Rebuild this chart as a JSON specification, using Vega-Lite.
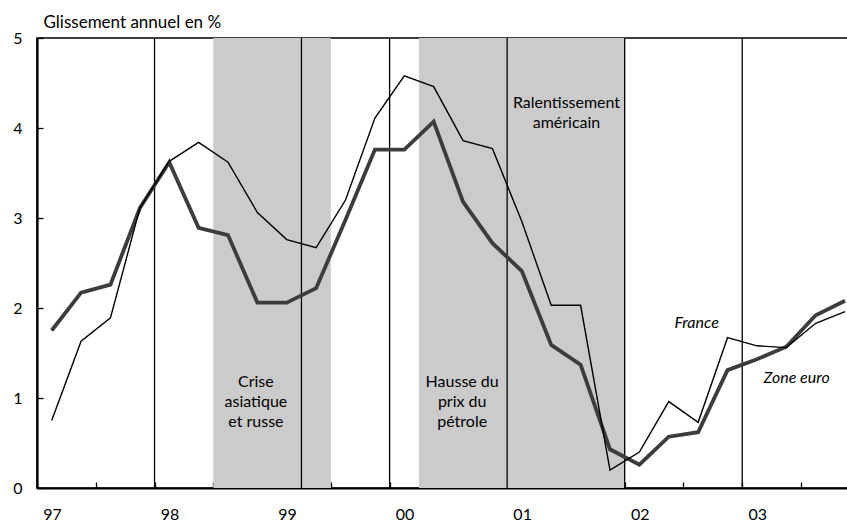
{
  "$schema": "https://vega.github.io/schema/vega-lite/v6.json",
  "autosize": "none",
  "width": 811,
  "height": 450,
  "padding": {"left": 37, "top": 38, "right": 0, "bottom": 36},
  "config": {
    "font": "Lato",
    "view": {"stroke": "#000000", "strokeWidth": 1.5},
    "axis": {"grid": false}
  },
  "datasets": {
    "bands": [{"start": 6, "end": 10}, {"start": 13, "end": 20}],
    "vlines": [{"t": 4}, {"t": 9}, {"t": 12}, {"t": 16}, {"t": 20}, {"t": 24}],
    "series": [
      {"t": 0.5, "s": "Zone euro", "v": 1.75}, {"t": 1.5, "s": "Zone euro", "v": 2.17}, {"t": 2.5, "s": "Zone euro", "v": 2.26}, {"t": 3.5, "s": "Zone euro", "v": 3.11},
      {"t": 4.5, "s": "Zone euro", "v": 3.62}, {"t": 5.5, "s": "Zone euro", "v": 2.89}, {"t": 6.5, "s": "Zone euro", "v": 2.81}, {"t": 7.5, "s": "Zone euro", "v": 2.06},
      {"t": 8.5, "s": "Zone euro", "v": 2.06}, {"t": 9.5, "s": "Zone euro", "v": 2.22}, {"t": 10.5, "s": "Zone euro", "v": 2.98}, {"t": 11.5, "s": "Zone euro", "v": 3.76},
      {"t": 12.5, "s": "Zone euro", "v": 3.76}, {"t": 13.5, "s": "Zone euro", "v": 4.07}, {"t": 14.5, "s": "Zone euro", "v": 3.18}, {"t": 15.5, "s": "Zone euro", "v": 2.72},
      {"t": 16.5, "s": "Zone euro", "v": 2.41}, {"t": 17.5, "s": "Zone euro", "v": 1.59}, {"t": 18.5, "s": "Zone euro", "v": 1.37}, {"t": 19.5, "s": "Zone euro", "v": 0.43},
      {"t": 20.5, "s": "Zone euro", "v": 0.26}, {"t": 21.5, "s": "Zone euro", "v": 0.57}, {"t": 22.5, "s": "Zone euro", "v": 0.62}, {"t": 23.5, "s": "Zone euro", "v": 1.31},
      {"t": 24.5, "s": "Zone euro", "v": 1.43}, {"t": 25.5, "s": "Zone euro", "v": 1.57}, {"t": 26.5, "s": "Zone euro", "v": 1.92}, {"t": 27.5, "s": "Zone euro", "v": 2.08},
      {"t": 0.5, "s": "France", "v": 0.75}, {"t": 1.5, "s": "France", "v": 1.63}, {"t": 2.5, "s": "France", "v": 1.89}, {"t": 3.5, "s": "France", "v": 3.11},
      {"t": 4.5, "s": "France", "v": 3.63}, {"t": 5.5, "s": "France", "v": 3.84}, {"t": 6.5, "s": "France", "v": 3.62}, {"t": 7.5, "s": "France", "v": 3.06},
      {"t": 8.5, "s": "France", "v": 2.76}, {"t": 9.5, "s": "France", "v": 2.67}, {"t": 10.5, "s": "France", "v": 3.2}, {"t": 11.5, "s": "France", "v": 4.11},
      {"t": 12.5, "s": "France", "v": 4.58}, {"t": 13.5, "s": "France", "v": 4.46}, {"t": 14.5, "s": "France", "v": 3.86}, {"t": 15.5, "s": "France", "v": 3.77},
      {"t": 16.5, "s": "France", "v": 2.96}, {"t": 17.5, "s": "France", "v": 2.03}, {"t": 18.5, "s": "France", "v": 2.03}, {"t": 19.5, "s": "France", "v": 0.2},
      {"t": 20.5, "s": "France", "v": 0.4}, {"t": 21.5, "s": "France", "v": 0.96}, {"t": 22.5, "s": "France", "v": 0.73}, {"t": 23.5, "s": "France", "v": 1.67},
      {"t": 24.5, "s": "France", "v": 1.58}, {"t": 25.5, "s": "France", "v": 1.56}, {"t": 26.5, "s": "France", "v": 1.83}, {"t": 27.5, "s": "France", "v": 1.96}
    ],
    "notes": [
      {"t": 7.45, "v": 1.18, "label": ["Crise", "asiatique", "et russe"]},
      {"t": 14.47, "v": 1.18, "label": ["Hausse du", "prix du", "pétrole"]},
      {"t": 18.02, "v": 4.28, "label": ["Ralentissement", "américain"]}
    ],
    "snotes": [
      {"t": 22.45, "v": 1.83, "label": "France"},
      {"t": 25.85, "v": 1.22, "label": "Zone euro"}
    ]
  },
  "layer": [
    {
      "data": {"name": "bands"},
      "mark": {"type": "rect", "color": "#cbcbcb"},
      "encoding": {
        "x": {
          "field": "start", "type": "quantitative",
          "scale": {"domain": [0, 27.6], "nice": false, "zero": false},
          "axis": {
            "title": null,
            "values": [0,1,2,3,4,5,6,7,8,9,10,11,12,13,14,15,16,17,18,19,20,21,22,23,24,25,26,27],
            "labelExpr": "datum.value % 4 === 0 ? ['97','98','99','00','01','02','03'][floor(datum.value / 4)] : ''",
            "labelOffset": 15,
            "labelOverlap": false,
            "labelFlush": false,
            "labelFontSize": 16,
            "labelColor": "#000000",
            "labelPadding": 24,
            "tickSize": -6,
            "tickColor": "#000000",
            "tickWidth": 1.3,
            "domainColor": "#000000",
            "domainWidth": 2.2
          }
        },
        "x2": {"field": "end"}
      }
    },
    {
      "data": {"name": "vlines"},
      "mark": {"type": "rule", "color": "#000000", "strokeWidth": 1.3},
      "encoding": {
        "x": {"field": "t", "type": "quantitative", "title": null}
      }
    },
    {
      "data": {"name": "series"},
      "mark": {"type": "line", "strokeJoin": "miter"},
      "encoding": {
        "x": {"field": "t", "type": "quantitative", "title": null},
        "y": {
          "field": "v", "type": "quantitative",
          "title": "Glissement annuel en %",
          "scale": {"domain": [0, 5], "nice": false},
          "axis": {
            "titleAngle": 0,
            "titleAlign": "left",
            "titleBaseline": "alphabetic",
            "titleX": 6,
            "titleY": -11,
            "titleFontSize": 17,
            "titleFontWeight": "normal",
            "titleColor": "#000000",
            "values": [0, 1, 2, 3, 4, 5],
            "format": "d",
            "labelFontSize": 16,
            "labelColor": "#000000",
            "labelPadding": 21,
            "tickSize": -6,
            "tickColor": "#000000",
            "tickWidth": 1.3,
            "domainColor": "#000000",
            "domainWidth": 2.2
          }
        },
        "color": {"field": "s", "type": "nominal", "scale": {"domain": ["France", "Zone euro"], "range": ["#000000", "#3c3c3c"]}, "legend": null},
        "strokeWidth": {"field": "s", "type": "nominal", "scale": {"domain": ["France", "Zone euro"], "range": [1.4, 3.8]}, "legend": null}
      }
    },
    {
      "data": {"name": "notes"},
      "mark": {"type": "text", "fontSize": 16, "lineHeight": 20, "align": "center", "baseline": "middle", "color": "#000000"},
      "encoding": {
        "x": {"field": "t", "type": "quantitative", "title": null},
        "y": {"field": "v", "type": "quantitative", "title": "Glissement annuel en %"},
        "text": {"field": "label"}
      }
    },
    {
      "data": {"name": "snotes"},
      "mark": {"type": "text", "fontSize": 16, "fontStyle": "italic", "align": "center", "baseline": "middle", "color": "#000000"},
      "encoding": {
        "x": {"field": "t", "type": "quantitative", "title": null},
        "y": {"field": "v", "type": "quantitative", "title": "Glissement annuel en %"},
        "text": {"field": "label"}
      }
    }
  ]
}
